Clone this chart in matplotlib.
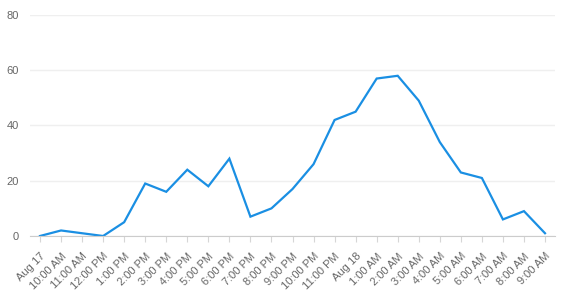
import matplotlib.pyplot as plt

plt.rcParams['font.family'] = ['Liberation Sans', 'DejaVu Sans']

labels = ['Aug 17', '10:00 AM', '11:00 AM', '12:00 PM', '1:00 PM', '2:00 PM', '3:00 PM',
          '4:00 PM', '5:00 PM', '6:00 PM', '7:00 PM', '8:00 PM', '9:00 PM', '10:00 PM',
          '11:00 PM', 'Aug 18', '1:00 AM', '2:00 AM', '3:00 AM', '4:00 AM', '5:00 AM',
          '6:00 AM', '7:00 AM', '8:00 AM', '9:00 AM']
values = [0, 2, 1, 0, 5, 19, 16, 24, 18, 28, 7, 10, 17, 26, 42, 45, 57, 58, 49, 34, 23,
          21, 6, 9, 1]

fig = plt.figure(figsize=(5.61, 2.97), dpi=100)
ax = fig.add_axes([30 / 561, 61 / 297, 525 / 561, 221 / 297])

x = list(range(len(values)))
ax.plot(x, values, color='#1a8fe3', linewidth=1.6, solid_joinstyle='miter')

ax.set_xlim(-0.475, len(values) - 1 + 0.475)
ax.set_ylim(0, 80)
ax.set_yticks([0, 20, 40, 60, 80])
ax.set_xticks(x)
ax.set_xticklabels(labels, rotation=45, ha='right', rotation_mode='anchor')

ax.grid(axis='y', color='#efefef', linewidth=1)
ax.set_axisbelow(True)
for s in ['top', 'right', 'left']:
    ax.spines[s].set_visible(False)
ax.spines['bottom'].set_color('#cccccc')
ax.tick_params(axis='y', length=0, labelsize=8, labelcolor='#666666', pad=8)
ax.tick_params(axis='x', length=4, color='#d6d6d6', labelsize=8, labelcolor='#666666', pad=7)

fig.savefig('out.png', dpi=100)
